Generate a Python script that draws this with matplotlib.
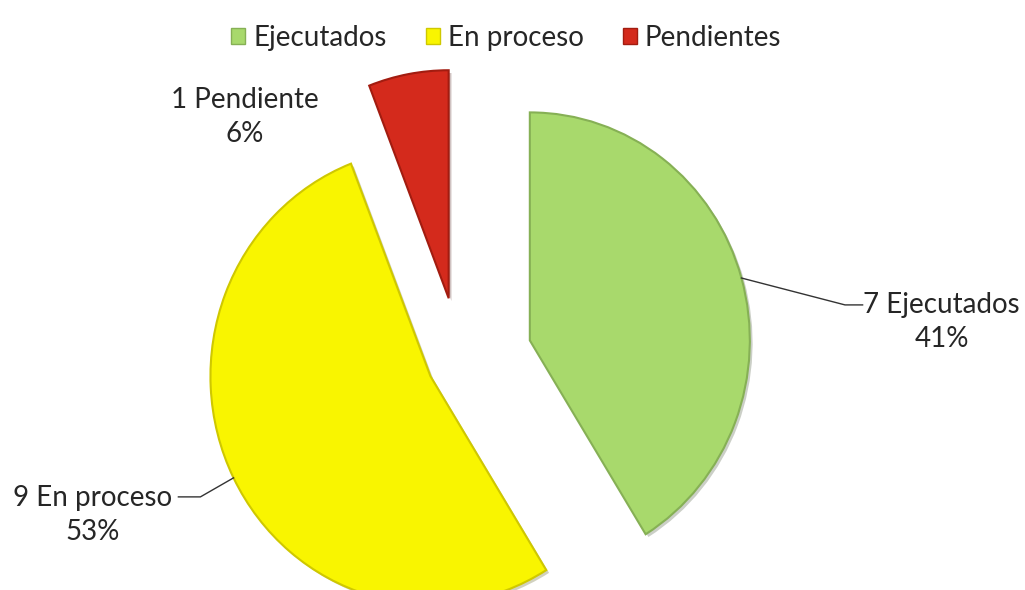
import numpy as np
import matplotlib.pyplot as plt
import matplotlib.patheffects as pe
from matplotlib.patches import Patch

categories = ['Ejecutados', 'En proceso', 'Pendientes']
counts = [7, 9, 1]
label_names = ['Ejecutados', 'En proceso', 'Pendiente']

colors = ['#a8d96c', '#f9f500', '#d42a1c']
edges = ['#86b055', '#cfc800', '#a21c10']
explode = [0.33, 0.15, 0.28]

plt.rcParams['font.family'] = ['Lato', 'DejaVu Sans']

fig = plt.figure(figsize=(10.25, 5.9), dpi=100)
ax = fig.add_axes([0, 0, 1, 1])

# pixels per unit radius (slightly taller than wide) and pie center in px
sx, sy = 220.0, 228.0
cx, cy = 460.0, 361.0

wedges, _ = ax.pie(counts, colors=colors, explode=explode, startangle=90,
                   counterclock=False, radius=1.0, frame=True,
                   wedgeprops=dict(linewidth=1.5))
for w, ec in zip(wedges, edges):
    w.set_edgecolor(ec)
    w.set_path_effects([pe.SimplePatchShadow(offset=(2, -2), alpha=0.25), pe.Normal()])

ax.set_aspect('auto')
ax.set_xlim(-cx / sx, (1025 - cx) / sx)
ax.set_ylim(-(590 - cy) / sy, cy / sy)
ax.axis('off')

total = sum(counts)
pcts = [round(100 * c / total) for c in counts]


def edge_point(w, ex):
    ang = np.deg2rad((w.theta1 + w.theta2) / 2)
    u = np.array([np.cos(ang), np.sin(ang)])
    return u * (ex + 1.0)


txt_kw = dict(fontsize=20, color='#262626', ha='center', va='center', linespacing=1.4)

# Ejecutados label with leader
p = edge_point(wedges[0], explode[0])
ax.plot([p[0], 1.75, 1.83], [p[1], 0.246, 0.246], color='#333333', lw=1)
ax.text(2.19, 0.17, f'{counts[0]} {label_names[0]}\n{pcts[0]}%', **txt_kw)

# En proceso label with leader
p = edge_point(wedges[1], explode[1])
ax.plot([p[0], -1.18, -1.28], [p[1], -0.596, -0.596], color='#333333', lw=1)
ax.text(-1.67, -0.675, f'{counts[1]} {label_names[1]}\n{pcts[1]}%', **txt_kw)

# Pendiente label
ax.text(-0.98, 1.07, f'{counts[2]} {label_names[2]}\n{pcts[2]}%', **txt_kw)

handles = [Patch(facecolor=c, edgecolor=e, label=l) for c, e, l in zip(colors, edges, categories)]
fig.legend(handles=handles, loc='upper center', bbox_to_anchor=(0.494, 1.0), ncol=3,
           frameon=False, fontsize=20, handlelength=0.5, handleheight=0.5,
           handletextpad=0.3, columnspacing=1.4, labelcolor='#262626')

fig.savefig('out.png', dpi=100)
